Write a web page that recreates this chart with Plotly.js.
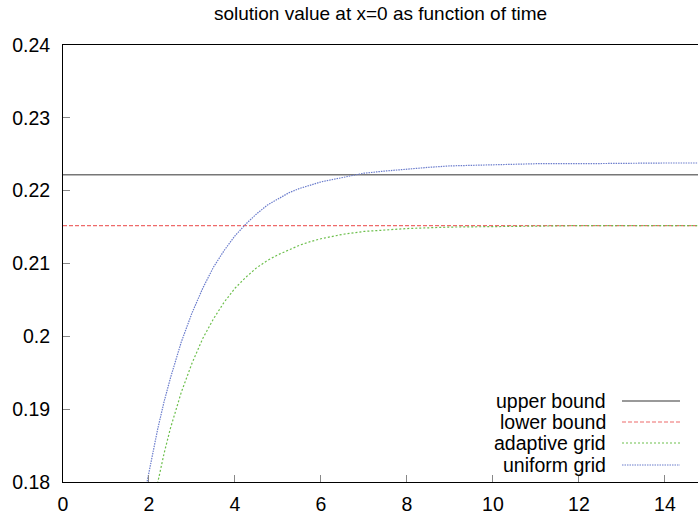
<!DOCTYPE html>
<html>
<head>
<meta charset="utf-8">
<script src="https://cdn.plot.ly/plotly-3.0.1.min.js"></script>
<style>
  html, body { margin: 0; padding: 0; background: #fff; }
  #chart { width: 698px; height: 517px; }
</style>
</head>
<body>
<div id="chart"></div>
<script>
// Bounds for the solution value at x=0
const upperBound = 0.2222;
const lowerBound = 0.2152;
const boundTime = [0, 15];

// Uniform grid run
const uniformTime = [1.9, 2.0, 2.1, 2.2, 2.35, 2.5, 2.75, 3.0, 3.25, 3.5, 3.75, 4.0, 4.25, 4.5, 4.75, 5.0, 5.25, 5.5, 5.75, 6.0, 6.25, 6.5, 7.0, 7.5, 8.0, 8.5, 9.0, 9.5, 10.0, 11.0, 12.0, 13.0, 14.0, 15.0];
const uniformGrid = [0.1784, 0.1815, 0.1845, 0.1872, 0.1910, 0.1943, 0.1992, 0.2032, 0.2066, 0.2095, 0.2118, 0.2138, 0.2154, 0.2168, 0.2180, 0.2189, 0.2197, 0.2203, 0.2208, 0.2212, 0.2215, 0.2218, 0.2224, 0.2227, 0.2230, 0.2232, 0.2234, 0.2235, 0.2236, 0.2237, 0.2237, 0.2238, 0.2238, 0.2238];

// Adaptive grid run
const adaptiveTime = [2.1, 2.2, 2.35, 2.5, 2.75, 3.0, 3.25, 3.5, 3.75, 4.0, 4.25, 4.5, 4.75, 5.0, 5.25, 5.5, 5.75, 6.0, 6.5, 7.0, 7.5, 8.0, 9.0, 10.0, 11.0, 12.0, 13.0, 14.0, 15.0];
const adaptiveGrid = [0.1771, 0.1800, 0.1839, 0.1874, 0.1923, 0.1963, 0.1997, 0.2024, 0.2047, 0.2066, 0.2081, 0.2094, 0.2104, 0.2112, 0.2119, 0.2125, 0.2130, 0.2134, 0.2140, 0.2144, 0.2146, 0.2148, 0.2150, 0.2151, 0.2152, 0.2152, 0.2152, 0.2152, 0.2152];

const xTicks = [0, 2, 4, 6, 8, 10, 12, 14];
const yTicks = [0.18, 0.19, 0.2, 0.21, 0.22, 0.23, 0.24];
const yTickText = ['0.18', '0.19', '0.2', '0.21', '0.22', '0.23', '0.24'];

const seriesNames = ['upper bound', 'lower bound', 'adaptive grid', 'uniform grid'];
const styles = [
  { color: '#777777', dash: 'solid', width: 1.5 },
  { color: '#ee6a6a', dash: '4px,2px', width: 1.2 },
  { color: '#6cbf4c', dash: '2px,2px', width: 1.2 },
  { color: '#6a7ccc', dash: '1.5px,1px', width: 1.2 }
];

const FONT = '"Liberation Sans", Arial, Helvetica, sans-serif';

const traces = [
  { x: boundTime, y: [upperBound, upperBound] },
  { x: boundTime, y: [lowerBound, lowerBound] },
  { x: adaptiveTime, y: adaptiveGrid },
  { x: uniformTime, y: uniformGrid }
].map((t, i) => Object.assign({
  type: 'scatter',
  mode: 'lines',
  name: seriesNames[i],
  showlegend: false,
  hoverinfo: 'skip'
}, t, { line: Object.assign({ shape: 'linear' }, styles[i]) }));

// gnuplot-style key: right-aligned label followed by a line sample
const L = 63, R = 698, T = 45, B = 482;
const px = v => (v - L) / (R - L);
const py = v => (B - v) / (B - T);
const keyRows = [401, 422, 443, 465];
const annotations = [];
const shapes = [];
seriesNames.forEach((name, i) => {
  annotations.push({
    xref: 'paper', yref: 'paper',
    x: px(608), y: py(keyRows[i]),
    xanchor: 'right', yanchor: 'middle',
    text: name, showarrow: false,
    font: { family: FONT, size: 19.5, color: '#000' }
  });
  shapes.push({
    type: 'line', xref: 'paper', yref: 'paper',
    x0: px(622), x1: px(680), y0: py(keyRows[i]), y1: py(keyRows[i]),
    line: { color: styles[i].color, dash: styles[i].dash, width: styles[i].width }
  });
});

const layout = {
  width: 698,
  height: 517,
  margin: { l: L, r: 698 - R, t: T, b: 517 - B, pad: 0 },
  paper_bgcolor: '#fff',
  plot_bgcolor: '#fff',
  font: { family: FONT, size: 19, color: '#000' },
  title: {
    text: 'solution value at x=0 as function of time',
    font: { family: FONT, size: 19, color: '#000' },
    xref: 'paper', x: 0.5, xanchor: 'center',
    yref: 'container', y: 1 - 13 / 517, yanchor: 'middle'
  },
  xaxis: {
    range: [0, 14.77],
    tickvals: xTicks,
    ticks: 'inside', ticklen: 7, tickwidth: 1, tickcolor: '#888',
    showline: true, linecolor: '#000', linewidth: 1, mirror: true,
    showgrid: false, zeroline: false,
    tickfont: { family: FONT, size: 19.5, color: '#000' },
    ticklabelstandoff: 5
  },
  yaxis: {
    range: [0.18, 0.24],
    tickvals: yTicks, ticktext: yTickText,
    ticks: 'inside', ticklen: 7, tickwidth: 1, tickcolor: '#888',
    showline: true, linecolor: '#000', linewidth: 1, mirror: false,
    showgrid: false, zeroline: false,
    tickfont: { family: FONT, size: 19.5, color: '#000' },
    ticklabelstandoff: 8
  },
  showlegend: false,
  annotations: annotations,
  shapes: shapes
};

Plotly.newPlot('chart', traces, layout, { displayModeBar: false, staticPlot: true });
</script>
</body>
</html>
